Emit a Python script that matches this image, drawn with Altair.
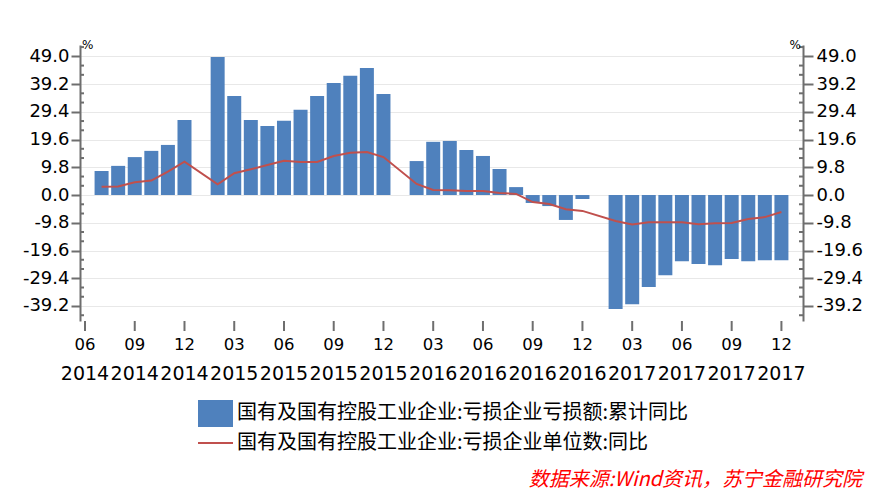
import altair as alt
import pandas as pd

# ---------------- data (month index 0 = 2014-06) ----------------
month_idx = list(range(1, 43))  # 2014-07 .. 2017-12
bar_values = [8.5, 10.3, 13.4, 15.6, 17.7, 26.5,
              None, 48.8, 35.0, 26.5, 24.4, 26.2, 30.1, 35.0, 39.6, 42.1, 44.9, 35.7,
              None, 12.0, 18.8, 19.1, 15.9, 13.8, 9.2, 2.8, -2.8, -3.9, -8.8, -1.4,
              None, -40.3, -38.6, -32.5, -28.3, -23.4, -24.4, -24.8, -22.6, -23.4, -23.0, -23.0]
line_values = [2.9, 3.0, 4.5, 5.1, 8.3, 11.8,
               None, 3.8, 7.7, 9.1, 10.6, 12.1, 11.7, 11.7, 13.8, 14.9, 15.2, 13.4,
               None, 3.9, 1.8, 1.7, 1.4, 1.4, 0.7, 0.4, -2.5, -3.2, -5.0, -5.6,
               None, -9.2, -10.4, -9.6, -9.6, -9.6, -10.3, -10.0, -9.9, -8.5, -7.8, -6.0]

tick_idx = [0, 3, 6, 9, 12, 15, 18, 21, 24, 27, 30, 33, 36, 39, 42]
tick_month = ["06", "09", "12", "03", "06", "09", "12", "03", "06", "09", "12", "03", "06", "09", "12"]
tick_year = ["2014", "2014", "2014", "2015", "2015", "2015", "2015", "2016", "2016", "2016",
             "2016", "2017", "2017", "2017", "2017"]
y_major = [49.0, 39.2, 29.4, 19.6, 9.8, 0.0, -9.8, -19.6, -29.4, -39.2]

legend_labels = ["国有及国有控股工业企业:亏损企业亏损额:累计同比",
                 "国有及国有控股工业企业:亏损企业单位数:同比"]
source_text = ["数据来源:Wind资讯，苏宁金融研究院"]
unit_text = ["%"]

# ---------------- layout / style ----------------
W, H = 723, 276
X_DOM = [0, 43]
Y_DOM = [-44.5, 53.0]
BLUE = "#4f81bd"
RED = "#c0504d"
AX = "#6e6e6e"
NUM_FONT = "DejaVu Sans"
CJK_FONT = "Noto Sans CJK SC"

xs = alt.Scale(domain=X_DOM, nice=False, zero=False)
ys = alt.Scale(domain=Y_DOM, nice=False, zero=False)

label_expr = "datum.value < 0 ? '-' + format(-datum.value, '.1f') : format(datum.value, '.1f')"

df = pd.DataFrame({"idx": month_idx, "bar": bar_values, "line": line_values})
ticks_df = pd.DataFrame({"idx": tick_idx, "m": tick_month, "yr": tick_year})
minor_y = []
for k in range(1, -30, -1):
    v = round(49.0 + 9.8 / 3 * k, 3)
    if k % 3 != 0 and Y_DOM[0] <= v <= Y_DOM[1]:
        minor_y.append(v)
minor_df = pd.DataFrame({"v": minor_y})

left_axis = alt.Axis(orient="left", values=y_major, labelExpr=label_expr, title=None,
                     tickSize=9, tickWidth=2, tickColor=AX, domainColor=AX, domainWidth=2,
                     labelFont=NUM_FONT, labelFontSize=18, labelColor="#000000", labelPadding=2,
                     grid=True, gridColor="#e8e8e8", gridWidth=1)
right_axis = alt.Axis(orient="right", values=y_major, labelExpr=label_expr, title=None,
                      tickSize=10, tickWidth=2, tickColor=AX, domainColor=AX, domainWidth=2,
                      labelFont=NUM_FONT, labelFontSize=18, labelColor="#000000", labelPadding=3,
                      grid=False)
x_axis = alt.Axis(values=list(range(0, 44)), labels=False, title=None, tickSize=6, tickWidth=2,
                  tickColor=AX, domainColor=AX, domainWidth=2, grid=False)

bars = alt.Chart(df).transform_filter("isValid(datum.bar)").mark_bar(color=BLUE, size=14).encode(
    x=alt.X("idx:Q", scale=xs, axis=x_axis),
    y=alt.Y("bar:Q", scale=ys, axis=left_axis),
    y2=alt.datum(0),
)

line = alt.Chart(df).transform_filter("isValid(datum.line)").mark_line(color=RED, strokeWidth=2).encode(
    x=alt.X("idx:Q", scale=xs, axis=None),
    y=alt.Y("line:Q", scale=ys, axis=right_axis),
)

major_x_ticks = alt.Chart(ticks_df).mark_rule(color=AX, strokeWidth=2).encode(
    x=alt.X("idx:Q", scale=xs, axis=None),
    y=alt.value(H), y2=alt.value(H + 10),
)
month_labels = alt.Chart(ticks_df).mark_text(font=NUM_FONT, fontSize=16.5, baseline="middle",
                                               color="#000000").encode(
    x=alt.X("idx:Q", scale=xs, axis=None), y=alt.value(H + 24), text="m:N")
year_labels = alt.Chart(ticks_df).mark_text(font=NUM_FONT, fontSize=19, baseline="middle",
                                              color="#000000").encode(
    x=alt.X("idx:Q", scale=xs, axis=None), y=alt.value(H + 53), text="yr:N")

minor_left = alt.Chart(minor_df).mark_rule(color=AX, strokeWidth=2).encode(
    y=alt.Y("v:Q", scale=ys, axis=None), x=alt.value(0), x2=alt.value(4))
minor_right = alt.Chart(minor_df).mark_rule(color=AX, strokeWidth=2).encode(
    y=alt.Y("v:Q", scale=ys, axis=None), x=alt.value(W - 4), x2=alt.value(W))

unit_df = pd.DataFrame({"t": unit_text})
unit_left = alt.Chart(unit_df).mark_text(font=NUM_FONT, fontSize=12, align="left",
                                          baseline="middle", color="#000000").encode(
    x=alt.value(2), y=alt.value(0), text="t:N")
unit_right = alt.Chart(unit_df).mark_text(font=NUM_FONT, fontSize=12, align="right",
                                           baseline="middle", color="#000000").encode(
    x=alt.value(W - 2), y=alt.value(0), text="t:N")

leg1_df = pd.DataFrame({"t": [legend_labels[0]]})
leg2_df = pd.DataFrame({"t": [legend_labels[1]]})
leg_rect = alt.Chart(leg1_df).mark_rect(color=BLUE).encode(
    x=alt.value(118), x2=alt.value(153), y=alt.value(355), y2=alt.value(382))
leg_text1 = alt.Chart(leg1_df).mark_text(font=CJK_FONT, fontSize=20, align="left",
                                          baseline="middle", color="#000000").encode(
    x=alt.value(157), y=alt.value(368), text="t:N")
leg_line = alt.Chart(leg2_df).mark_rule(color=RED, strokeWidth=2).encode(
    x=alt.value(118), x2=alt.value(153), y=alt.value(398))
leg_text2 = alt.Chart(leg2_df).mark_text(font=CJK_FONT, fontSize=20, align="left",
                                          baseline="middle", color="#000000").encode(
    x=alt.value(157), y=alt.value(398), text="t:N")

src = alt.Chart(pd.DataFrame({"t": source_text})).mark_text(
    font=CJK_FONT, fontSize=20, fontStyle="italic", align="right", baseline="middle",
    color="#ff0000").encode(x=alt.value(782), y=alt.value(435), text="t:N")

chart = alt.layer(
    bars, line, major_x_ticks, month_labels, year_labels, minor_left, minor_right,
    unit_left, unit_right, leg_rect, leg_text1, leg_line, leg_text2, src
).resolve_axis(y="independent").properties(
    width=W, height=H,
    autosize=alt.AutoSizeParams(type="none"),
    padding={"left": 80, "top": 45, "right": 81, "bottom": 176},
    background="#ffffff",
).configure_view(stroke=None)

chart.save("out.html", embed_options={"renderer": "svg", "actions": False})
